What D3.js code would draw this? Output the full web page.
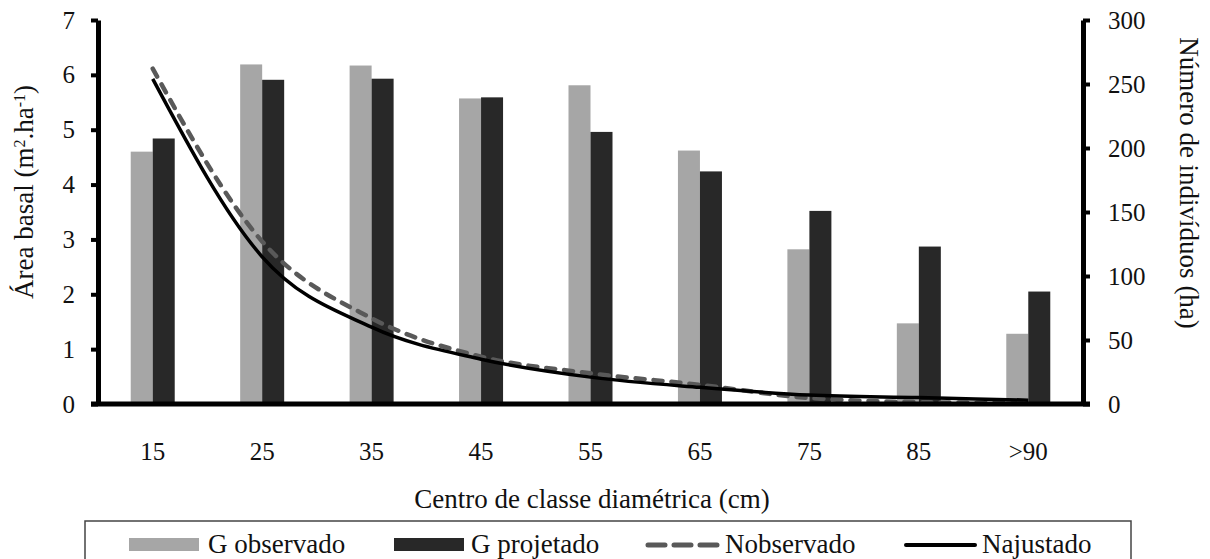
<!DOCTYPE html>
<html lang="pt">
<head>
    <meta charset="UTF-8">
    <title>Área basal e número de indivíduos</title>
    <script src="https://d3js.org/d3.v7.min.js"></script>
    <style>
        body { margin: 0; background: #fff; }
        text { font-family: "Liberation Serif", "Times New Roman", serif; fill: #111; }
    </style>
</head>
<body>
<script>
    // classes diamétricas (cm)
    var categories = ["15", "25", "35", "45", "55", "65", "75", "85", ">90"];
    // área basal (m2.ha-1)
    var gObservado = [4.60, 6.19, 6.17, 5.57, 5.81, 4.62, 2.82, 1.47, 1.28];
    var gProjetado = [4.84, 5.91, 5.93, 5.59, 4.96, 4.24, 3.52, 2.87, 2.05];
    // número de indivíduos (ha)
    var nObservado = [262, 127, 67, 37, 24, 15, 4.7, 1.5, 0.8];
    var nAjustado  = [254, 115, 60, 35, 21, 13, 7, 5, 3];
    var leftTicks  = [0, 1, 2, 3, 4, 5, 6, 7];
    var rightTicks = [0, 50, 100, 150, 200, 250, 300];

    var width = 1210, height = 559;
    var mLeft = 98, mRight = 1083, mTop = 20, mBottom = 404;

    var svg = d3.select("body").append("svg")
        .attr("width", width)
        .attr("height", height);

    var x = d3.scaleBand().domain(categories).range([mLeft, mRight]);
    var xs = d3.scaleBand().domain(["obs", "proj"]).range([0, 44]);
    var yL = d3.scaleLinear().domain([0, 7]).range([mBottom, mTop]);
    var yR = d3.scaleLinear().domain([0, 300]).range([mBottom, mTop]);

    // bars
    var series = [
        { key: "obs", values: gObservado, color: "#a6a6a6" },
        { key: "proj", values: gProjetado, color: "#282828" }
    ];
    series.forEach(function(s) {
        svg.append("g").selectAll("rect")
            .data(s.values)
            .enter().append("rect")
            .attr("x", function(d, i) { return x(categories[i]) + x.bandwidth() / 2 - 22 + xs(s.key); })
            .attr("y", function(d) { return yL(d); })
            .attr("width", xs.bandwidth())
            .attr("height", function(d) { return mBottom - yL(d); })
            .attr("fill", s.color);
    });

    // lines
    var line = d3.line()
        .x(function(d, i) { return x(categories[i]) + x.bandwidth() / 2; })
        .y(function(d) { return yR(d); })
        .curve(d3.curveMonotoneX);

    svg.append("path")
        .datum(nObservado)
        .attr("d", line)
        .attr("fill", "none")
        .attr("stroke", "#595959")
        .attr("stroke-width", 4.5)
        .attr("stroke-linecap", "round")
        .attr("stroke-dasharray", "9,9");

    svg.append("path")
        .datum(nAjustado)
        .attr("d", line)
        .attr("fill", "none")
        .attr("stroke", "#000")
        .attr("stroke-width", 3.5);

    // axes
    var axL = svg.append("g")
        .attr("transform", "translate(" + mLeft + ",0)")
        .call(d3.axisLeft(yL).tickValues(leftTicks).tickFormat(d3.format("d"))
            .tickSize(7).tickSizeOuter(0).tickPadding(16));
    var axR = svg.append("g")
        .attr("transform", "translate(" + mRight + ",0)")
        .call(d3.axisRight(yR).tickValues(rightTicks).tickFormat(d3.format("d"))
            .tickSize(7).tickSizeOuter(0).tickPadding(18));
    var axB = svg.append("g")
        .attr("transform", "translate(0," + mBottom + ")")
        .call(d3.axisBottom(x).tickSize(0).tickSizeOuter(0).tickPadding(38));

    [axL, axR, axB].forEach(function(a) {
        a.select(".domain").attr("stroke", "#000").attr("stroke-width", 5);
        a.selectAll(".tick line").attr("stroke", "#000").attr("stroke-width", 4);
        a.selectAll(".tick text")
            .style("font-family", "'Liberation Serif', serif")
            .style("font-size", "25px")
            .attr("fill", "#111");
    });
    axB.select(".domain").attr("d", "M" + (mLeft - 7) + ",0H" + (mRight + 7));

    // axis titles
    svg.append("text")
        .attr("transform", "translate(33,192) rotate(-90)")
        .attr("text-anchor", "middle")
        .style("font-size", "27px")
        .html("Área basal (m<tspan baseline-shift='super' font-size='16px'>2</tspan>.ha<tspan baseline-shift='super' font-size='16px'>-1</tspan>)");

    svg.append("text")
        .attr("transform", "translate(1180,183) rotate(90)")
        .attr("text-anchor", "middle")
        .style("font-size", "27px")
        .text("Número de indivíduos (ha)");

    svg.append("text")
        .attr("x", 592)
        .attr("y", 508)
        .attr("text-anchor", "middle")
        .style("font-size", "27px")
        .text("Centro de classe diamétrica (cm)");

    // legend
    svg.append("rect")
        .attr("x", 85).attr("y", 521)
        .attr("width", 1046).attr("height", 60)
        .attr("fill", "none")
        .attr("stroke", "#444")
        .attr("stroke-width", 1.5);

    var legend = [
        { label: "G observado", type: "bar", color: "#a6a6a6", x: 129, tx: 208 },
        { label: "G projetado", type: "bar", color: "#282828", x: 394, tx: 471 },
        { label: "Nobservado", type: "dash", color: "#595959", x: 646, tx: 725 },
        { label: "Najustado", type: "line", color: "#000", x: 904, tx: 982 }
    ];
    var lg = svg.append("g").selectAll("g").data(legend).enter().append("g");
    lg.filter(function(d) { return d.type === "bar"; }).append("rect")
        .attr("x", function(d) { return d.x; })
        .attr("y", 538)
        .attr("width", 70)
        .attr("height", 13)
        .attr("fill", function(d) { return d.color; });
    lg.filter(function(d) { return d.type !== "bar"; }).append("line")
        .attr("x1", function(d) { return d.x + 2; })
        .attr("x2", function(d) { return d.x + 71; })
        .attr("y1", 545).attr("y2", 545)
        .attr("stroke", function(d) { return d.color; })
        .attr("stroke-width", function(d) { return d.type === "dash" ? 5 : 4; })
        .attr("stroke-linecap", "round")
        .attr("stroke-dasharray", function(d) { return d.type === "dash" ? "17,9" : null; });
    lg.append("text")
        .attr("x", function(d) { return d.tx; })
        .attr("y", 553)
        .style("font-size", "27px")
        .text(function(d) { return d.label; });
</script>
</body>
</html>
